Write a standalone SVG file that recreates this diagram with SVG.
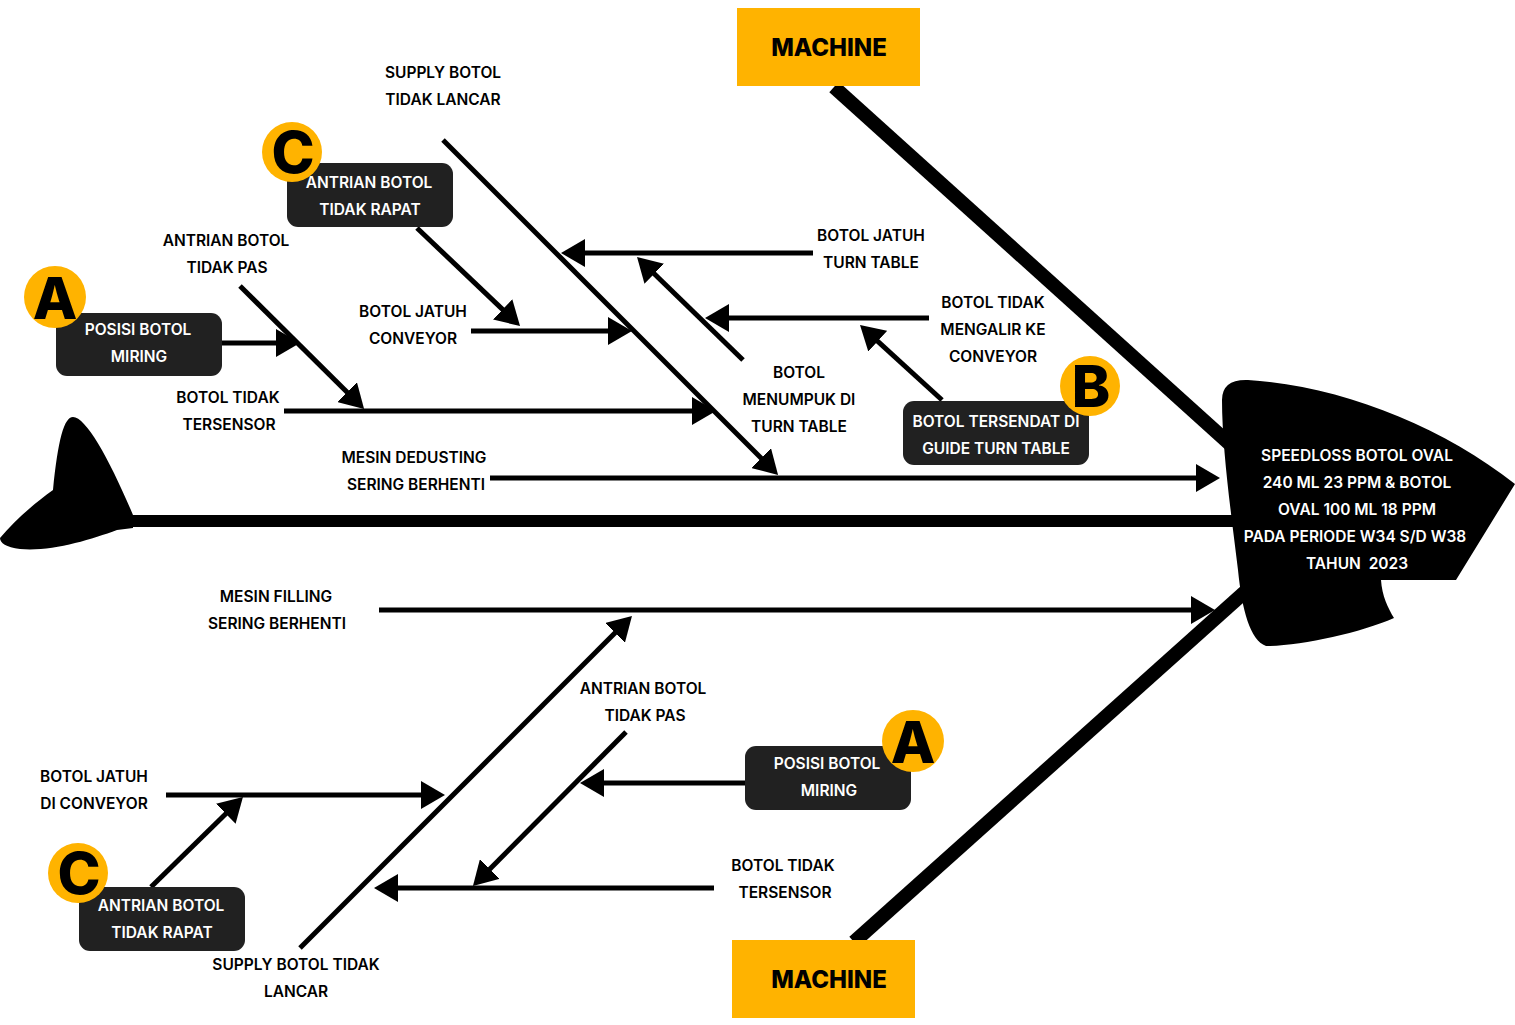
<svg xmlns="http://www.w3.org/2000/svg" width="1515" height="1025" viewBox="0 0 1515 1025">
<defs>
<marker id="ah" viewBox="0 0 24 28" refX="14" refY="14" markerWidth="24" markerHeight="28" markerUnits="userSpaceOnUse" orient="auto">
<path d="M0,0 L24,14 L0,28 Z" fill="#000"/>
</marker>
</defs>
<style>
.t{font-family:Inter,"Noto Sans","Liberation Sans",sans-serif;font-weight:600;font-size:15.5px;fill:#000;text-anchor:middle}
.w{fill:#fff}
.box{fill:#212121}
.m{fill:#FFB300}
.mt{font-family:Inter,"Noto Sans","Liberation Sans",sans-serif;font-weight:800;font-size:24px;fill:#000;text-anchor:middle}
.badge{fill:#FFB300}
.bl{font-family:Inter,"Noto Sans","Liberation Sans",sans-serif;font-weight:800;font-size:58px;fill:#000;text-anchor:middle}
.c{stroke:#000;stroke-width:5;fill:none;marker-end:url(#ah)}
.bone{stroke:#000;stroke-width:14;fill:none}
</style>
<rect width="1515" height="1025" fill="#fff"/>

<g id="skeleton">
<line class="bone" x1="834" y1="87" x2="1232" y2="446"/>
<line class="bone" x1="854" y1="942" x2="1256" y2="582"/>
<line x1="120" y1="521" x2="1240" y2="521" stroke="#000" stroke-width="12"/>
<path id="tail" d="M53,490 C58,440 64,417 73,417 C86,417 110,460 133,515 L133,528 L117,530 C90,540 50,552 20,549 C6,547 0,543 0,538 C15,520 35,503 53,490 Z" fill="#000"/>
</g>

<g id="head">
<path d="M1222,400 Q1222,379 1248,380 C1340,386 1440,425 1515,484 L1456,580 L1381,580 C1382,596 1388,608 1394,618 C1360,633 1300,646 1266,646 C1250,640 1242,610 1238,570 C1232,520 1222,450 1222,400 Z" fill="#000"/>
<text class="t w" x="1357" y="461">SPEEDLOSS BOTOL OVAL</text>
<text class="t w" x="1357" y="488">240 ML 23 PPM &amp; BOTOL</text>
<text class="t w" x="1357" y="515">OVAL 100 ML 18 PPM</text>
<text class="t w" x="1355" y="542">PADA PERIODE W34 S/D W38</text>
<text class="t w" x="1357" y="569" xml:space="preserve">TAHUN  2023</text>
</g>

<g id="connectors">
<line class="c" x1="443" y1="140" x2="771" y2="468"/>
<line class="c" x1="490" y1="478" x2="1210" y2="478"/>
<line class="c" x1="284" y1="411" x2="706" y2="411"/>
<line class="c" x1="240" y1="286" x2="357" y2="402"/>
<line class="c" x1="222" y1="343" x2="290" y2="343"/>
<line class="c" x1="471" y1="331" x2="622" y2="331"/>
<line class="c" x1="417" y1="228" x2="512.8" y2="319.1"/>
<line class="c" x1="813" y1="253" x2="571" y2="253"/>
<line class="c" x1="743" y1="360" x2="644.2" y2="264"/>
<line class="c" x1="929" y1="318" x2="715" y2="318"/>
<line class="c" x1="942" y1="400" x2="867.4" y2="331.8"/>
<line class="c" x1="379" y1="610" x2="1205" y2="610"/>
<line class="c" x1="300" y1="948" x2="624.9" y2="623.1"/>
<line class="c" x1="166" y1="795" x2="435" y2="795"/>
<line class="c" x1="151" y1="887" x2="235.8" y2="804"/>
<line class="c" x1="626" y1="732" x2="480" y2="878.9"/>
<line class="c" x1="745" y1="783" x2="590" y2="783"/>
<line class="c" x1="714" y1="888" x2="384" y2="888"/>
</g>

<g id="machine-top">
<rect class="m" x="737" y="8" width="183" height="78"/>
<text class="mt" x="829" y="56">MACHINE</text>
</g>
<g id="machine-bottom">
<rect class="m" x="732" y="940" width="183" height="78"/>
<text class="mt" x="829" y="988">MACHINE</text>
</g>

<g id="lbl-supply-top">
<text class="t" x="443" y="78">SUPPLY BOTOL</text>
<text class="t" x="443" y="105">TIDAK LANCAR</text>
</g>
<g id="lbl-antrian-pas-top">
<text class="t" x="226" y="246">ANTRIAN BOTOL</text>
<text class="t" x="227" y="273">TIDAK PAS</text>
</g>
<g id="lbl-jatuh-conveyor">
<text class="t" x="413" y="317">BOTOL JATUH</text>
<text class="t" x="413" y="344">CONVEYOR</text>
</g>
<g id="lbl-tersensor-top">
<text class="t" x="228" y="403">BOTOL TIDAK</text>
<text class="t" x="229" y="430">TERSENSOR</text>
</g>
<g id="lbl-dedusting">
<text class="t" x="414" y="463">MESIN DEDUSTING</text>
<text class="t" x="416" y="490">SERING BERHENTI</text>
</g>
<g id="lbl-jatuh-turntable">
<text class="t" x="871" y="241">BOTOL JATUH</text>
<text class="t" x="871" y="268">TURN TABLE</text>
</g>
<g id="lbl-mengalir">
<text class="t" x="993" y="308">BOTOL TIDAK</text>
<text class="t" x="993" y="335">MENGALIR KE</text>
<text class="t" x="993" y="362">CONVEYOR</text>
</g>
<g id="lbl-menumpuk">
<text class="t" x="799" y="378">BOTOL</text>
<text class="t" x="799" y="405">MENUMPUK DI</text>
<text class="t" x="799" y="432">TURN TABLE</text>
</g>
<g id="lbl-filling">
<text class="t" x="276" y="602">MESIN FILLING</text>
<text class="t" x="277" y="629">SERING BERHENTI</text>
</g>
<g id="lbl-antrian-pas-bottom">
<text class="t" x="643" y="694">ANTRIAN BOTOL</text>
<text class="t" x="645" y="721">TIDAK PAS</text>
</g>
<g id="lbl-jatuh-di-conveyor">
<text class="t" x="94" y="782">BOTOL JATUH</text>
<text class="t" x="94" y="809">DI CONVEYOR</text>
</g>
<g id="lbl-tersensor-bottom">
<text class="t" x="783" y="871">BOTOL TIDAK</text>
<text class="t" x="785" y="898">TERSENSOR</text>
</g>
<g id="lbl-supply-bottom">
<text class="t" x="296" y="970">SUPPLY BOTOL TIDAK</text>
<text class="t" x="296" y="997">LANCAR</text>
</g>

<g id="node-c-top">
<rect class="box" x="287" y="163" width="166" height="64" rx="11"/>
<circle class="badge" cx="292" cy="152" r="30"/>
<text class="bl" x="293" y="173">C</text>
<text class="t w" x="369" y="188">ANTRIAN BOTOL</text>
<text class="t w" x="370" y="215">TIDAK RAPAT</text>
</g>
<g id="node-a-top">
<rect class="box" x="56" y="313" width="166" height="63" rx="11"/>
<circle class="badge" cx="55" cy="297" r="31"/>
<text class="bl" x="55" y="319">A</text>
<text class="t w" x="138" y="335">POSISI BOTOL</text>
<text class="t w" x="139" y="362">MIRING</text>
</g>
<g id="node-b">
<rect class="box" x="903" y="401" width="186" height="64" rx="11"/>
<circle class="badge" cx="1090" cy="386" r="30"/>
<text class="bl" x="1091" y="407">B</text>
<text class="t w" x="996" y="427">BOTOL TERSENDAT DI</text>
<text class="t w" x="996" y="454">GUIDE TURN TABLE</text>
</g>
<g id="node-a-bottom">
<rect class="box" x="745" y="746" width="166" height="64" rx="11"/>
<circle class="badge" cx="913" cy="741" r="31"/>
<text class="bl" x="913" y="763">A</text>
<text class="t w" x="827" y="769">POSISI BOTOL</text>
<text class="t w" x="829" y="796">MIRING</text>
</g>
<g id="node-c-bottom">
<rect class="box" x="79" y="887" width="166" height="64" rx="11"/>
<circle class="badge" cx="78" cy="873" r="30"/>
<text class="bl" x="79" y="894">C</text>
<text class="t w" x="161" y="911">ANTRIAN BOTOL</text>
<text class="t w" x="162" y="938">TIDAK RAPAT</text>
</g>
</svg>
